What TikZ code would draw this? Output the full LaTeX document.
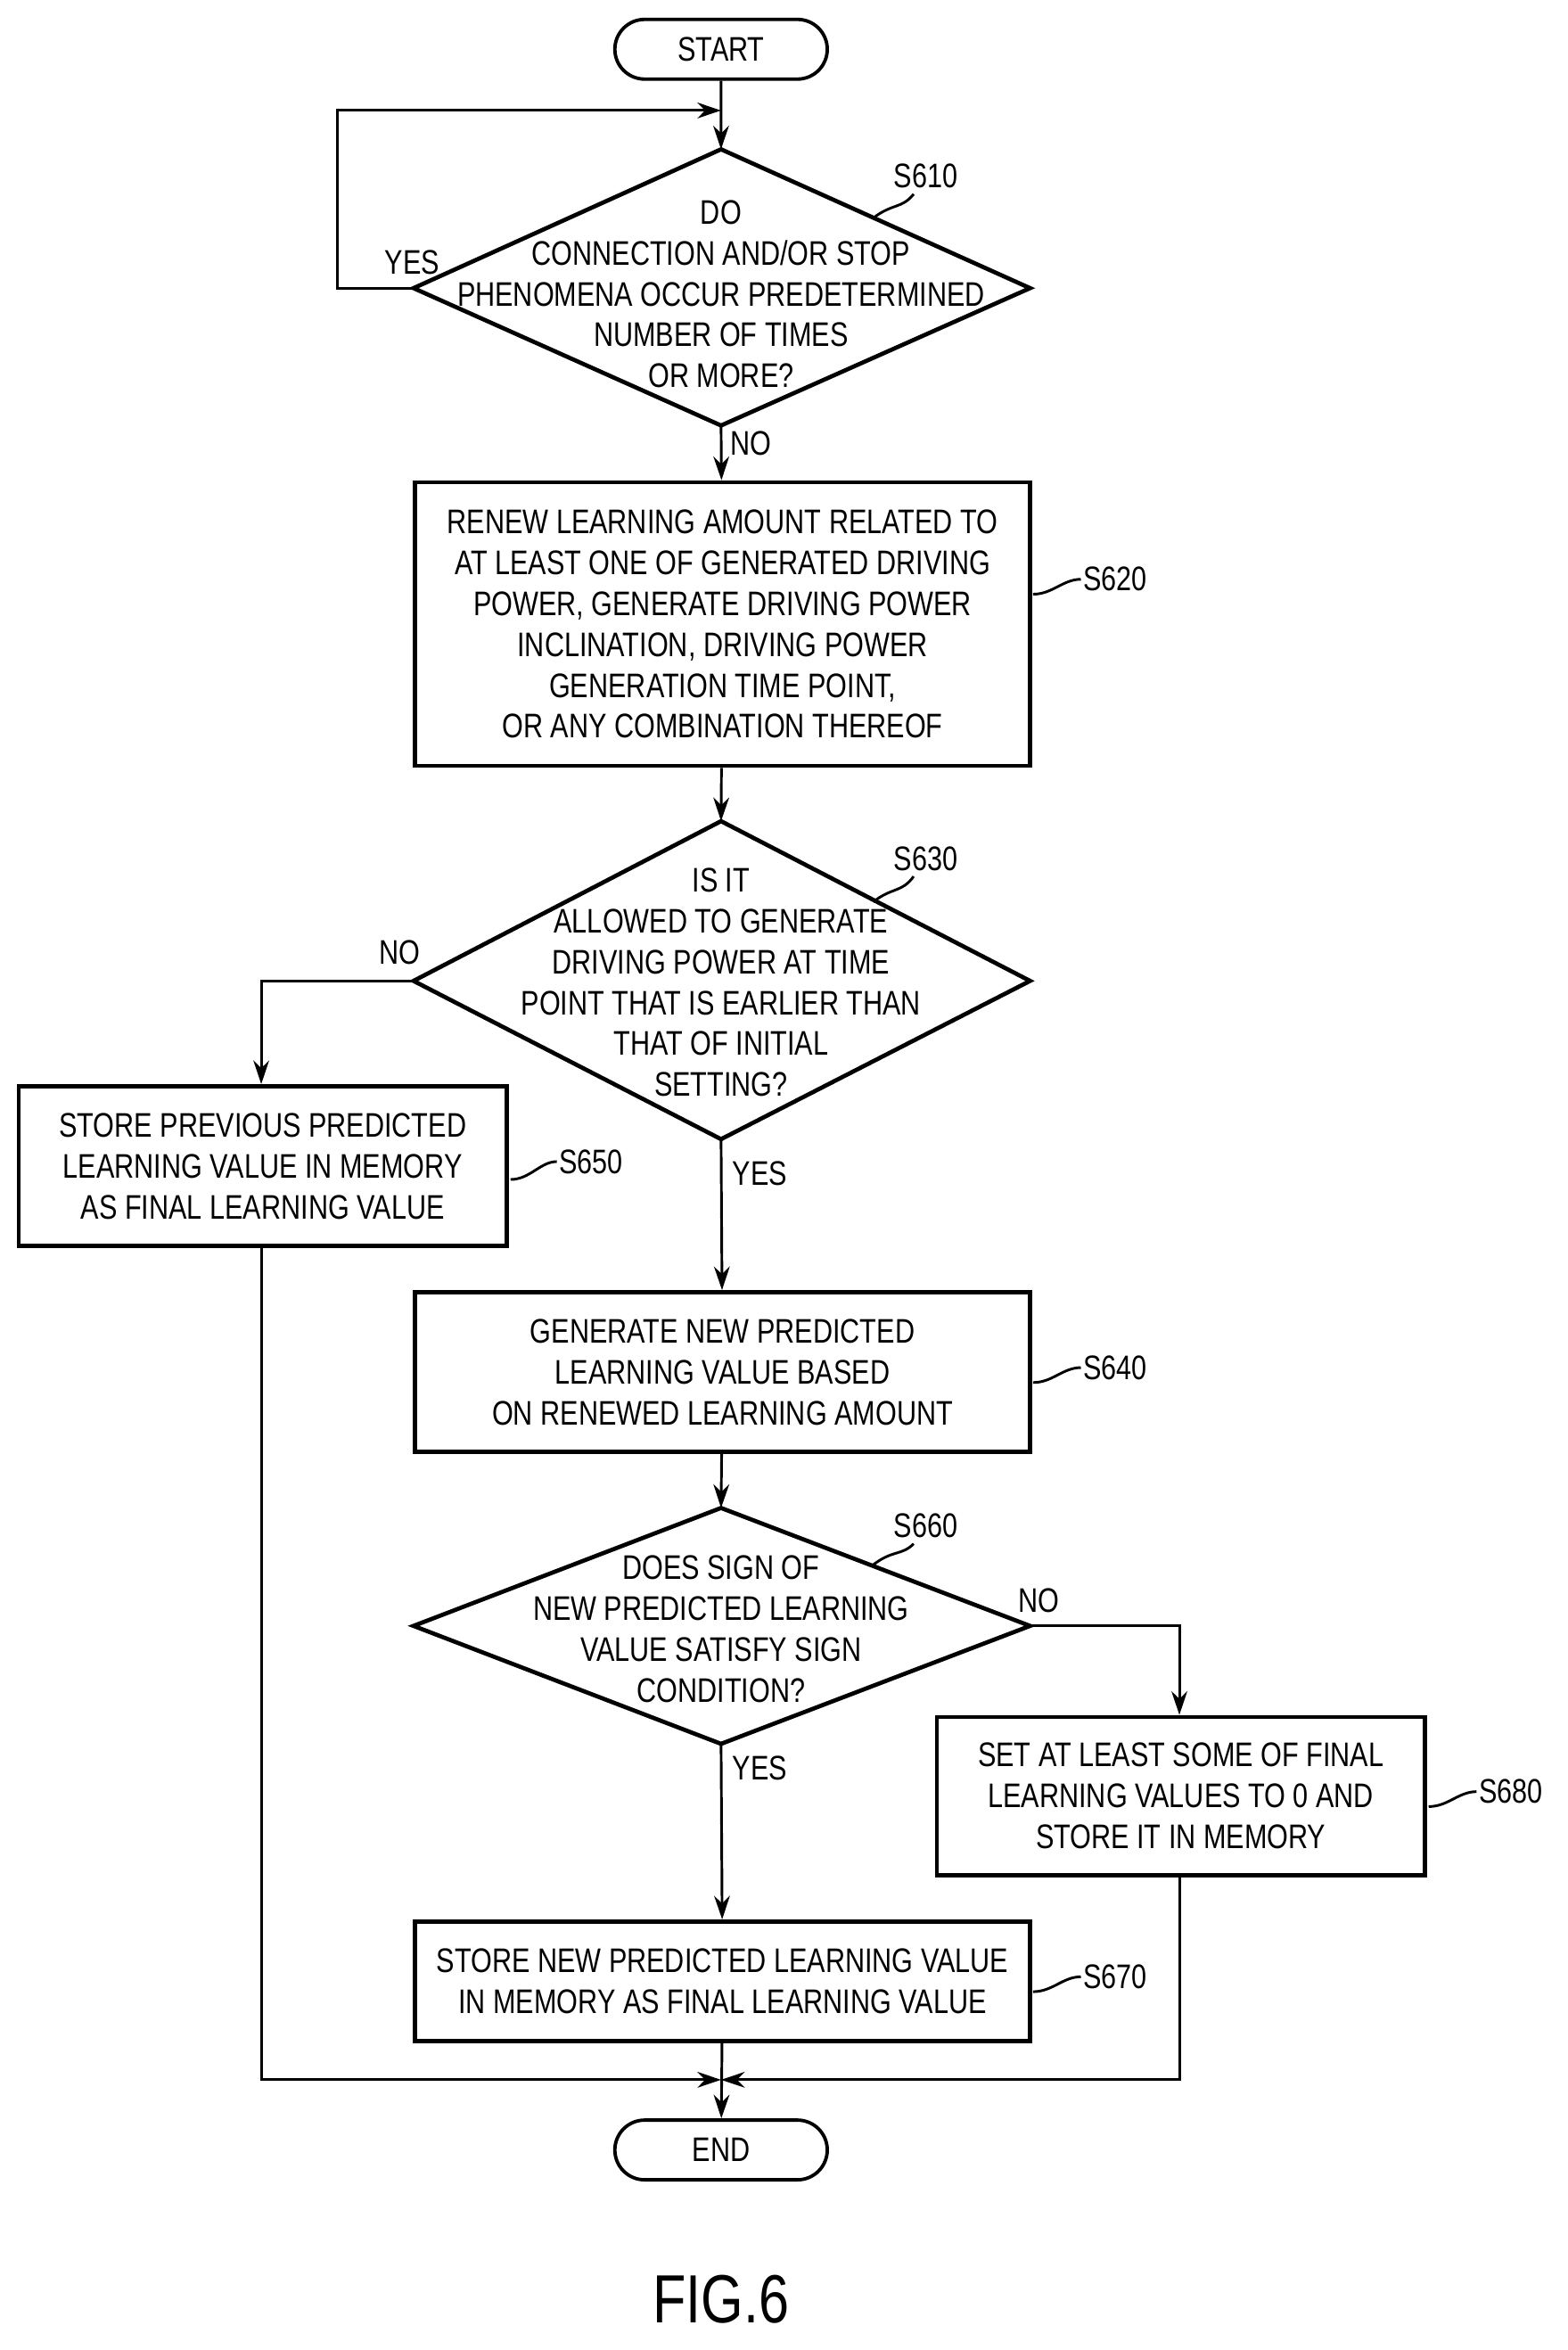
\documentclass[tikz,border=0pt]{standalone}
\usepackage{fontspec}
\setmainfont{Liberation Sans}[FakeStretch=0.8]
\usetikzlibrary{shapes.geometric,shapes.misc,arrows.meta}
\begin{document}
\begin{tikzpicture}[x=0.02cm,y=-0.02cm,
 every node/.style={font=\fontsize{13}{15.6}\selectfont},
 box/.style={draw,line width=1.6pt,align=center,inner sep=0pt},
 term/.style={draw,line width=1.3pt,rounded rectangle,minimum width=154*0.02cm,minimum height=40*0.02cm},
 ln/.style={line width=1pt},
 arr/.style={ln,-{Stealth[length=9pt,width=6pt]}},
 lab/.style={font=\fontsize{13}{15}\selectfont}]
\useasboundingbox (0,0) rectangle (1050,1574);
\node[term] (start) at (483,33) {START};
\coordinate (d1t) at (483,100);\coordinate (d1b) at (483,285);\coordinate (d1l) at (277,193);\coordinate (d1r) at (690,193);
\draw[line width=1.6pt] (d1t)--(d1r)--(d1b)--(d1l)--cycle;
\node[align=center] (d1) at (483,197) {DO\\CONNECTION AND/OR STOP\\PHENOMENA OCCUR PREDETERMINED\\NUMBER OF TIMES\\OR MORE?};
\node[box,minimum width=412*0.02cm,minimum height=190*0.02cm] (b620) at (484,418) {RENEW LEARNING AMOUNT RELATED TO\\AT LEAST ONE OF GENERATED DRIVING\\POWER, GENERATE DRIVING POWER\\INCLINATION, DRIVING POWER\\GENERATION TIME POINT,\\OR ANY COMBINATION THEREOF};
\coordinate (d2t) at (483,550);\coordinate (d2b) at (483,763);\coordinate (d2l) at (277,657);\coordinate (d2r) at (690,657);
\draw[line width=1.6pt] (d2t)--(d2r)--(d2b)--(d2l)--cycle;
\node[align=center] (d2) at (483,658) {IS IT\\ALLOWED TO GENERATE\\DRIVING POWER AT TIME\\POINT THAT IS EARLIER THAN\\THAT OF INITIAL\\SETTING?};
\node[box,minimum width=327*0.02cm,minimum height=107*0.02cm] (b650) at (176,781) {STORE PREVIOUS PREDICTED\\LEARNING VALUE IN MEMORY\\AS FINAL LEARNING VALUE};
\node[box,minimum width=412*0.02cm,minimum height=107*0.02cm] (b640) at (484,919) {GENERATE NEW PREDICTED\\LEARNING VALUE BASED\\ON RENEWED LEARNING AMOUNT};
\coordinate (d3t) at (483,1010);\coordinate (d3b) at (483,1168);\coordinate (d3l) at (277,1089);\coordinate (d3r) at (690,1089);
\draw[line width=1.6pt] (d3t)--(d3r)--(d3b)--(d3l)--cycle;
\node[align=center] (d3) at (483,1091) {DOES SIGN OF\\NEW PREDICTED LEARNING\\VALUE SATISFY SIGN\\CONDITION?};
\node[box,minimum width=327*0.02cm,minimum height=106*0.02cm] (b680) at (791,1203) {SET AT LEAST SOME OF FINAL\\LEARNING VALUES TO 0 AND\\STORE IT IN MEMORY};
\node[box,minimum width=412*0.02cm,minimum height=80*0.02cm] (b670) at (484,1327) {STORE NEW PREDICTED LEARNING VALUE\\IN MEMORY AS FINAL LEARNING VALUE};
\node[term] (end) at (483,1440) {END};
\coordinate (m) at (483,1393);
\draw[arr] (start)--(d1t);
\draw[arr] (d1l)--(226,193)--(226,74)--(483,74);
\draw[arr] (d1b)--(b620);
\draw[arr] (b620)--(d2t);
\draw[arr] (d2l)--(175,657)--(b650.north-|175,0);
\draw[arr] (d2b)--(b640);
\draw[arr] (b640)--(d3t);
\draw[arr] (d3r)--(790,1089)--(b680.north-|790,0);
\draw[arr] (d3b)--(b670);
\draw[arr] (b670)--(end);
\draw[arr] (b650.south-|175,0)--(175,1393)--(m);
\draw[arr] (b680.south-|790,0)--(790,1393)--(m);
\node[lab] at (276,176) {YES};
\node[lab] at (503,297) {NO};
\node[lab] at (268,638) {NO};
\node[lab] at (509,786) {YES};
\node[lab] at (696,1072) {NO};
\node[lab] at (509,1184) {YES};
\node[lab] at (620,118) {S610};
\draw[ln] (585,146) .. controls (598,136) and (604,140) .. (612,130);
\node[lab] at (620,575) {S630};
\draw[ln] (585,604) .. controls (598,594) and (604,598) .. (612,587);
\node[lab] at (620,1022) {S660};
\draw[ln] (585,1048) .. controls (598,1038) and (604,1042) .. (612,1034);
\node[lab] at (747,388) {S620};
\draw[ln] (692,398) .. controls (705,398) and (712,388) .. (724,388);
\node[lab] at (396,778) {S650};
\draw[ln] (342,790) .. controls (355,790) and (362,778) .. (373,778);
\node[lab] at (747,916) {S640};
\draw[ln] (692,926) .. controls (705,926) and (712,916) .. (724,916);
\node[lab] at (1012,1200) {S680};
\draw[ln] (957,1210) .. controls (970,1210) and (977,1200) .. (989,1200);
\node[lab] at (747,1324) {S670};
\draw[ln] (692,1334) .. controls (705,1334) and (712,1324) .. (724,1324);
\node[font=\fontsize{26}{30}\selectfont] (fig) at (483,1540) {FIG.6};
\end{tikzpicture}
\end{document}
